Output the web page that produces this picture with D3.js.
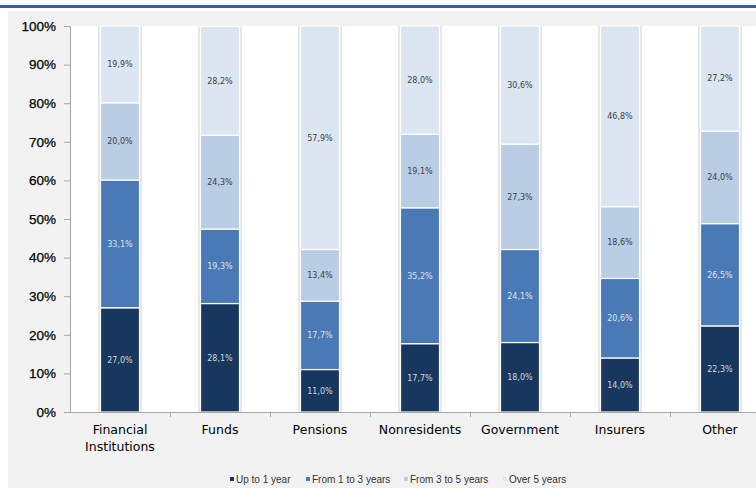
<!DOCTYPE html>
<html>
<head>
<meta charset="utf-8">
<script src="https://cdn.jsdelivr.net/npm/d3@7"></script>
<style>
  html, body { margin: 0; padding: 0; background: #ffffff; }
  svg { display: block; }
</style>
</head>
<body>
<svg id="chart" width="756" height="489"></svg>
<script>
// Maturity breakdown by holder type (shares of each holder's total, %)
const categories = ["Financial Institutions", "Funds", "Pensions", "Nonresidents", "Government", "Insurers", "Other"];
const seriesNames = ["Up to 1 year", "From 1 to 3 years", "From 3 to 5 years", "Over 5 years"];
const upTo1Year   = [27.0, 28.1, 11.0, 17.7, 18.0, 14.0, 22.3];
const from1To3    = [33.1, 19.3, 17.7, 35.2, 24.1, 20.6, 26.5];
const from3To5    = [20.0, 24.3, 13.4, 19.1, 27.3, 18.6, 24.0];
const over5Years  = [19.9, 28.2, 57.9, 28.0, 30.6, 46.8, 27.2];
const yTicks = [0, 10, 20, 30, 40, 50, 60, 70, 80, 90, 100];

const seriesValues = [upTo1Year, from1To3, from3To5, over5Years];
const colors = ["#17375e", "#4a7ab5", "#b9cde5", "#dce6f2"];
const labelColors = ["#d0d6de", "#dde4ee", "#404040", "#404040"];

const svg = d3.select("#chart");
const W = 756, H = 489;

// Frame: top rule, grey panel, white plotting area
svg.append("rect").attr("x", 0).attr("y", 5).attr("width", W).attr("height", 3).attr("fill", "#30639a");
svg.append("rect").attr("x", 8).attr("y", 11).attr("width", W - 8).attr("height", 477).attr("fill", "#f2f2f2");

const plot = { left: 70, right: 770, top: 26, bottom: 412 };
svg.append("rect")
  .attr("x", plot.left).attr("y", plot.top)
  .attr("width", W - plot.left).attr("height", plot.bottom - plot.top)
  .attr("fill", "#ffffff");

const x = d3.scaleBand()
  .domain(categories)
  .range([plot.left, plot.right])
  .paddingInner(0.61)
  .paddingOuter(0.305);

const y = d3.scaleLinear().domain([0, 100]).range([plot.bottom, plot.top]);

// Stack rows
const rows = categories.map((c, i) => {
  const r = { cat: c };
  seriesNames.forEach((s, k) => { r[s] = seriesValues[k][i]; });
  return r;
});
const stacked = d3.stack().keys(seriesNames)(rows);

// Soft grey edge behind each bar
svg.append("g").selectAll("rect")
  .data(rows)
  .join("rect")
  .attr("x", d => x(d.cat) - 2.5)
  .attr("y", d => y(d3.sum(seriesNames, s => d[s])))
  .attr("width", x.bandwidth() + 5)
  .attr("height", d => y(0) - y(d3.sum(seriesNames, s => d[s])))
  .attr("fill", "#e6e6e6");

// Segments
const layer = svg.append("g").selectAll("g")
  .data(stacked)
  .join("g")
  .attr("fill", (d, k) => colors[k]);

layer.selectAll("rect")
  .data(d => d.map(p => ({ p, cat: p.data.cat })))
  .join("rect")
  .attr("x", d => x(d.cat))
  .attr("y", d => y(d.p[1]))
  .attr("width", x.bandwidth())
  .attr("height", d => Math.max(0, y(d.p[0]) - y(d.p[1])))
  .attr("stroke", "#ffffff")
  .attr("stroke-width", 1.2);

// Segment value labels
const fmt = v => v.toFixed(1).replace(".", ",") + "%";
svg.append("g").selectAll("g")
  .data(stacked)
  .join("g")
  .each(function(series, k) {
    d3.select(this).selectAll("text")
      .data(series)
      .join("text")
      .attr("x", p => x(p.data.cat) + x.bandwidth() / 2)
      .attr("y", p => y((p[0] + p[1]) / 2))
      .attr("dy", "0.35em")
      .attr("text-anchor", "middle")
      .attr("font-family", "DejaVu Sans, Verdana, sans-serif")
      .attr("font-size", "8px")
      .attr("fill", labelColors[k])
      .text(p => fmt(p.data[series.key]));
  });

// Y axis
const yAxis = svg.append("g")
  .attr("transform", `translate(${plot.left},0)`)
  .call(d3.axisLeft(y).tickValues(yTicks).tickFormat(d => d + "%").tickSize(6).tickSizeOuter(0).tickPadding(8));
yAxis.select(".domain").attr("stroke", "#a6a6a6");
yAxis.selectAll(".tick line").attr("stroke", "#a6a6a6");
yAxis.selectAll("text")
  .attr("font-family", "Liberation Sans, Arial, sans-serif")
  .attr("font-size", "13.5px")
  .attr("fill", "#000000")
  .attr("stroke", "#000000")
  .attr("stroke-width", 0.25);

// X axis line with ticks at category boundaries
const xg = svg.append("g");
xg.append("line")
  .attr("x1", plot.left).attr("x2", W)
  .attr("y1", plot.bottom + 0.5).attr("y2", plot.bottom + 0.5)
  .attr("stroke", "#a6a6a6");
const step = x.step();
xg.selectAll("line.tick")
  .data(categories.slice(1))
  .join("line")
  .attr("class", "tick")
  .attr("x1", c => Math.round(x(c) - (step - x.bandwidth()) / 2) + 0.5)
  .attr("x2", c => Math.round(x(c) - (step - x.bandwidth()) / 2) + 0.5)
  .attr("y1", plot.bottom).attr("y2", plot.bottom + 5)
  .attr("stroke", "#a6a6a6");

// Category labels (wrapped on spaces)
xg.selectAll("text")
  .data(categories)
  .join("text")
  .attr("x", c => x(c) + x.bandwidth() / 2)
  .attr("y", 434)
  .attr("text-anchor", "middle")
  .attr("font-family", "DejaVu Sans, Verdana, sans-serif")
  .attr("font-size", "12.5px")
  .attr("fill", "#000000")
  .each(function(c) {
    const words = c.split(" ");
    const t = d3.select(this);
    words.forEach((w, i) => {
      t.append("tspan")
        .attr("x", x(c) + x.bandwidth() / 2)
        .attr("dy", i === 0 ? 0 : 16.5)
        .text(w);
    });
  });

// Legend
const legendX = [230, 306, 404, 503];
const legend = svg.append("g").selectAll("g")
  .data(seriesNames)
  .join("g")
  .attr("transform", (d, i) => `translate(${legendX[i]},479)`);
legend.append("rect")
  .attr("x", 0).attr("y", -2).attr("width", 4).attr("height", 4)
  .attr("fill", (d, i) => colors[i]);
legend.append("text")
  .attr("x", 6).attr("y", 0).attr("dy", "0.35em")
  .attr("font-family", "Liberation Sans, Arial, sans-serif")
  .attr("font-size", "10px")
  .attr("fill", "#333333")
  .text(d => d);
</script>
</body>
</html>
